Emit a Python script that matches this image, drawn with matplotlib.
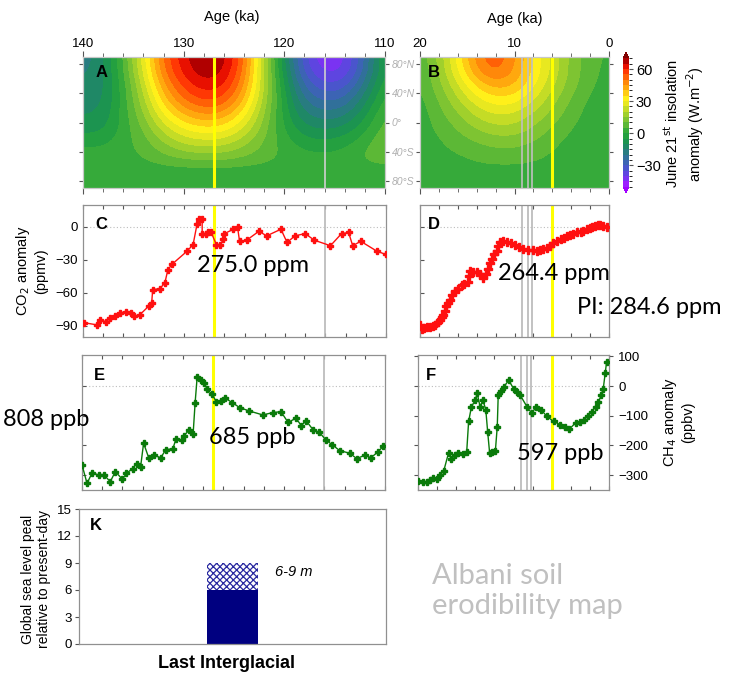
import numpy as np
import matplotlib.pyplot as plt
from matplotlib.colors import ListedColormap, BoundaryNorm
from matplotlib.ticker import MultipleLocator

plt.rcParams['font.family'] = ['Liberation Sans', 'DejaVu Sans']
plt.rcParams['hatch.linewidth'] = 0.9

# ---- June 21st insolation anomaly (W m-2) ----
lats = [90, 70, 50, 30, 10, -10, -30, -50, -70, -90]

ages_lig = [140, 138, 136, 134, 132, 130, 128, 126, 124, 122, 120, 118, 116, 114, 112, 110]
insol_lig = [
    [-18, -12, 5, 28, 52, 64, 71, 68, 52, 20, -10, -35, -45, -42, -25, -2],
    [-16, -12, 4, 26, 50, 62, 69, 66, 50, 20, -8, -32, -42, -40, -24, -3],
    [-14, -12, 2, 22, 44, 57, 63, 61, 46, 20, -5, -26, -34, -32, -18, 0],
    [-13, -11, 2, 18, 38, 50, 56, 54, 40, 18, -3, -20, -26, -24, -12, 3],
    [-10, -9, 2, 14, 30, 40, 45, 43, 32, 15, -2, -14, -18, -16, -6, 6],
    [-7, -6, 2, 10, 22, 30, 33, 32, 24, 12, 0, -8, -10, -8, -1, 8],
    [0, 0, 3, 7, 14, 20, 22, 21, 16, 9, 3, -2, -3, -1, 4, 10],
    [2, 2, 3, 5, 8, 10, 11, 11, 9, 7, 4, 3, 2, 3, 6, 8],
    [1, 1, 1, 1, 1, 1, 1, 1, 1, 1, 1, 1, 1, 1, 1, 1],
    [1, 1, 1, 1, 1, 1, 1, 1, 1, 1, 1, 1, 1, 1, 1, 1],
]

ages_hol = [20, 18, 16, 14, 12, 10, 8, 6, 4, 2, 0]
insol_hol = [
    [6, 16, 32, 48, 55, 46, 34, 24, 13, 7, 4],
    [5, 15, 30, 45, 52, 45, 34, 24, 13, 7, 3],
    [4, 13, 24, 36, 42, 40, 31, 21, 12, 6, 2],
    [3, 10, 19, 28, 33, 32, 25, 17, 9, 4, 1],
    [2, 8, 14, 21, 25, 24, 19, 13, 7, 3, 0],
    [2, 6, 10, 15, 18, 18, 14, 9, 5, 2, 0],
    [2, 4, 7, 9, 11, 11, 9, 6, 3, 1, 0],
    [2, 3, 4, 6, 7, 7, 6, 4, 2, 1, 0],
    [1, 1, 1, 2, 2, 2, 2, 1, 1, 1, 1],
    [1, 1, 1, 1, 1, 1, 1, 1, 1, 1, 1],
]

# ---- CO2 anomaly (ppmv) ----
co2_lig_age = [139.9, 138.6, 138.3, 137.7, 137.3, 136.8, 136.3, 135.7, 135.2, 135.0, 134.4,
               133.5, 133.2, 133.1, 132.4, 131.9, 131.6, 131.2, 129.7, 129.1, 128.7, 128.5,
               128.2, 128.2, 127.8, 127.6, 127.3, 126.8, 126.4, 126.1, 126.0, 125.1, 124.7,
               124.5, 123.8, 122.6, 121.8, 120.4, 119.8, 119.0, 118.0, 117.1, 115.5, 114.4,
               113.7, 113.3, 112.5, 110.9, 110.0]
co2_lig = [-87, -89, -85, -86, -83, -81, -78, -77, -78, -81, -80,
           -72, -69, -57, -56, -51, -39, -34, -22, -16, 3, 7,
           7, -6, -6, -5, -5, -16, -16, -11, -6, -2, 0,
           -13, -12, -4, -8, -2, -14, -8, -6, -12, -17, -6,
           -5, -17, -13, -22, -25]

co2_hol_age = [20.0, 19.8, 19.6, 19.3, 18.9, 18.6, 18.4, 18.1, 17.9, 17.7, 17.6, 17.4, 17.2,
               17.0, 16.8, 16.6, 16.3, 16.0, 15.6, 15.3, 14.9, 14.8, 14.7, 14.4, 14.0, 13.7,
               13.3, 13.0, 12.8, 12.6, 12.4, 12.2, 11.9, 11.7, 11.5, 11.2, 10.8, 10.4, 9.9,
               9.5, 9.1, 8.6, 8.0, 7.6, 7.3, 7.0, 6.6, 6.2, 5.9, 5.5, 5.1, 4.8, 4.4, 4.1,
               3.8, 3.4, 3.0, 2.7, 2.3, 2.0, 1.8, 1.5, 1.2, 0.95, 0.6, 0.25]
co2_hol = [-89, -93, -92, -91, -91, -90, -89, -86, -85, -82, -80, -76, -72,
           -69, -66, -62, -58, -56, -53, -52, -50, -45, -40, -41, -41, -43,
           -46, -43, -38, -33, -29, -25, -22, -17, -14, -13, -14, -15, -16,
           -18, -20, -21, -21, -22, -21, -20, -19, -17, -15, -13, -11, -10, -8, -7,
           -6, -5, -5, -4, -2, -1, 0, 1, 2, 2, 1, 0]

# ---- CH4 anomaly (ppbv) ----
ch4_lig_age = [140.0, 139.5, 139.0, 138.3, 137.8, 137.2, 136.7, 136.0, 135.6, 135.0, 134.6,
               134.2, 133.9, 133.4, 132.9, 132.2, 131.7, 131.0, 130.7, 130.1, 129.9, 129.4,
               129.0, 128.8, 128.6, 128.2, 127.9, 127.6, 127.1, 126.7, 126.2, 125.8, 125.1,
               124.4, 123.5, 122.1, 121.1, 120.3, 119.6, 118.8, 118.3, 117.8, 117.1, 116.5,
               115.8, 115.2, 114.5, 113.5, 112.8, 112.0, 111.4, 110.7, 110.2]
ch4_lig = [-265, -328, -292, -300, -300, -322, -288, -314, -294, -278, -261,
           -272, -192, -241, -233, -241, -214, -211, -178, -183, -167, -148,
           -162, -56, 30, 22, 11, -11, -28, -53, -50, -41, -56,
           -72, -83, -97, -89, -86, -122, -108, -133, -117, -148, -156,
           -183, -198, -217, -226, -244, -233, -241, -222, -203]

ch4_hol_age = [20.0, 19.5, 19.1, 18.7, 18.4, 18.0, 17.7, 17.3, 16.8, 16.5, 16.1, 15.8, 15.3,
               14.9, 14.7, 14.4, 14.0, 13.8, 13.5, 13.2, 12.9, 12.7, 12.5, 12.2, 11.9, 11.7,
               11.6, 11.3, 11.0, 10.5, 10.0, 9.6, 9.3, 8.6, 8.1, 7.6, 7.1, 6.5, 5.8, 5.1,
               4.6, 4.2, 3.5, 3.0, 2.6, 2.2, 1.8, 1.4, 1.1, 0.8, 0.6, 0.4, 0.25]
ch4_hol = [-319, -322, -324, -315, -308, -313, -300, -285, -225, -246, -232, -225, -228,
           -221, -119, -69, -47, -24, -69, -47, -80, -156, -225, -222, -219, -136,
           -30, -15, -2, 20, -8, -20, -30, -69, -91, -69, -80, -102, -119, -130,
           -138, -146, -124, -120, -113, -100, -86, -70, -52, -30, -8, 43, 82]

# ---- event markers (ka) ----
lig_peak, lig_gray = 127.0, 116.0
hol_peak, hol_gray = 6.0, [9.2, 8.6, 8.2]

# ---- sea level peak (m) ----
sl_low, sl_high = 6, 9

W, H = 731, 676
fig = plt.figure(figsize=(W / 100, H / 100), dpi=100)


def px_axes(l, t, r, b):
    return fig.add_axes([l / W, 1 - b / H, (r - l) / W, (b - t) / H])


colors = ['#9b1fff', '#7a33f2', '#5e45e0', '#4a55cc', '#3c64b4', '#31709a', '#287c80',
          '#1f8866', '#1c9450', '#24a040', '#36aa3a', '#5cb836', '#7ec432', '#a0d02c',
          '#c4dc26', '#e8e820', '#fff01a', '#ffcc14', '#ffa80e', '#ff880a', '#ff6006',
          '#ff3804', '#e81000', '#b00000']
cmap = ListedColormap(colors)
cmap.set_under('#a000ff')
cmap.set_over('#800000')
levels = np.arange(-50, 71, 5)
norm = BoundaryNorm(levels, cmap.N)

spine_c = '#909090'
tick_c = '#555555'


def style_spines(ax, c=spine_c):
    for s in ax.spines.values():
        s.set_color(c)
        s.set_linewidth(0.9)


# ---------- A ----------
axA = px_axes(83, 57, 385, 188)
imA = axA.imshow(np.array(insol_lig), extent=(141, 109, -100, 100), origin='upper',
                 aspect='auto', cmap=cmap, norm=norm, interpolation='bicubic',
                 interpolation_stage='data')
axA.set_xlim(140, 110)
axA.set_ylim(-90, 90)
axA.axvline(lig_peak, color='#ffff00', lw=2.2)
axA.axvline(lig_gray, color='#d0d0d0', lw=1.2)
axA.set_xticks([140, 130, 120, 110])
axA.xaxis.set_minor_locator(MultipleLocator(2))
axA.tick_params(axis='x', which='both', top=True, bottom=True, labeltop=True,
                labelbottom=False, direction='out', color=tick_c, labelsize=9.5, pad=1)
axA.tick_params(axis='x', which='major', length=4)
axA.tick_params(axis='x', which='minor', length=3)
axA.set_yticks([80, 40, 0, -40, -80])
axA.set_yticklabels(['80°N', '40°N', '0°', '40°S', '80°S'], fontstyle='italic', color='#b0b0b0')
axA.tick_params(axis='y', left=True, right=True, labelleft=False, labelright=True,
                direction='out', length=3, color=tick_c, labelsize=7.5, pad=2)
style_spines(axA, '#c8c8c8')
axA.text(0.04, 0.88, 'A', transform=axA.transAxes, fontsize=12, fontweight='bold', va='center')

# ---------- B ----------
axB = px_axes(420, 57, 609, 188)
axB.imshow(np.array(insol_hol), extent=(21, -1, -100, 100), origin='upper',
           aspect='auto', cmap=cmap, norm=norm, interpolation='bicubic',
           interpolation_stage='data')
axB.set_xlim(20, 0)
axB.set_ylim(-90, 90)
for a in hol_gray:
    axB.axvline(a, color='#c0c0c0', lw=1.2)
axB.axvline(hol_peak, color='#ffff00', lw=2.2)
axB.set_xticks([20, 10, 0])
axB.xaxis.set_minor_locator(MultipleLocator(2))
axB.tick_params(axis='x', which='both', top=True, bottom=True, labeltop=True,
                labelbottom=False, direction='out', color=tick_c, labelsize=9.5, pad=1)
axB.tick_params(axis='x', which='major', length=4)
axB.tick_params(axis='x', which='minor', length=3)
axB.set_yticks([80, 40, 0, -40, -80])
axB.tick_params(axis='y', left=True, right=True, labelleft=False, labelright=False,
                direction='out', length=3, color=tick_c)
style_spines(axB, '#c8c8c8')
axB.text(0.04, 0.88, 'B', transform=axB.transAxes, fontsize=12, fontweight='bold', va='center')

fig.text(232 / W, 1 - 17 / H, 'Age (ka)', ha='center', va='center', fontsize=10.5)
fig.text(515 / W, 1 - 19 / H, 'Age (ka)', ha='center', va='center', fontsize=10.5)

# colorbar
cax = px_axes(623, 52, 629, 193)
cb = fig.colorbar(imA, cax=cax, extend='both', ticks=[-30, 0, 30, 60])
cb.outline.set_visible(False)
cax.tick_params(labelsize=10.5, length=3, color=tick_c, pad=2)
fig.text(684 / W, 1 - 124 / H, 'June 21$^{\\mathrm{st}}$ insolation\nanomaly (W.m$^{-2}$)',
         rotation=90, ha='center', va='center', fontsize=10.5, multialignment='center')


def series_axes(ax, xlim, ylim, letter):
    ax.set_xlim(*xlim)
    ax.set_ylim(*ylim)
    ax.xaxis.set_major_locator(MultipleLocator(2))
    ax.tick_params(axis='x', top=True, bottom=True, labelbottom=False, direction='in',
                   length=3, color=tick_c)
    ax.tick_params(axis='y', direction='in', length=3, color=tick_c, labelsize=9.5)
    ax.axhline(0, color='#bdbdbd', lw=0.8, ls=(0, (1, 2)), zorder=1)
    style_spines(ax)
    ax.text(0.04, 0.85, letter, transform=ax.transAxes, fontsize=12, fontweight='bold',
            va='center')


red = '#ff1010'
green = '#0a7a0a'

# ---------- C ----------
axC = px_axes(83, 205, 386, 337)
series_axes(axC, (140, 110), (-100, 20), 'C')
axC.axvline(lig_peak, color='#ffff00', lw=2.2, zorder=2)
axC.axvline(lig_gray, color='#b8b8b8', lw=1.2, zorder=2)
axC.plot(co2_lig_age, co2_lig, color=red, lw=1.0, marker='P', ms=4.5, zorder=3)
axC.set_yticks([0, -30, -60, -90])
fig.text(31 / W, 1 - 271 / H, 'CO$_2$ anomaly\n(ppmv)', rotation=90, ha='center',
         va='center', fontsize=10.5, multialignment='center')

# ---------- D ----------
axD = px_axes(420, 205, 609, 337)
series_axes(axD, (20, 0), (-100, 20), 'D')
for a in hol_gray:
    axD.axvline(a, color='#b8b8b8', lw=1.2, zorder=2)
axD.axvline(hol_peak, color='#ffff00', lw=2.2, zorder=2)
axD.plot(co2_hol_age, co2_hol, color=red, lw=1.0, marker='P', ms=5.5, zorder=3)
axD.set_yticks([0, -30, -60, -90])
axD.tick_params(axis='y', labelleft=False)

# ---------- E ----------
axE = px_axes(82, 355, 385, 490)
series_axes(axE, (140, 110), (-350, 105), 'E')
axE.axvline(lig_peak, color='#ffff00', lw=2.2, zorder=2)
axE.axvline(lig_gray, color='#b8b8b8', lw=1.2, zorder=2)
axE.plot(ch4_lig_age, ch4_lig, color=green, lw=1.0, marker='P', ms=4.5, zorder=3)
axE.set_yticks([0, -100, -200, -300])
axE.tick_params(axis='y', labelleft=False)

# ---------- F ----------
axF = px_axes(418, 355, 609, 490)
series_axes(axF, (20, 0), (-350, 105), 'F')
for a in hol_gray:
    axF.axvline(a, color='#b8b8b8', lw=1.2, zorder=2)
axF.axvline(hol_peak, color='#ffff00', lw=2.2, zorder=2)
axF.plot(ch4_hol_age, ch4_hol, color=green, lw=1.0, marker='P', ms=5, zorder=3)
axF.set_yticks([100, 0, -100, -200, -300])
axF.tick_params(axis='y', left=True, right=True, labelleft=False, labelright=True)
axF.tick_params(axis='y', which='major', direction='out')
fig.text(678 / W, 1 - 422 / H, 'CH$_4$ anomaly\n(ppbv)', rotation=90, ha='center',
         va='center', fontsize=10.5, multialignment='center')

# ---------- K ----------
axK = px_axes(79, 509, 386, 644)
axK.bar([0.5], [sl_low], width=0.166, color='#000080', linewidth=0)
axK.bar([0.5], [sl_high - sl_low], bottom=[sl_low], width=0.166, facecolor='white',
        edgecolor='#2a2aa0', hatch='xxxxx', linewidth=0)
axK.set_xlim(0, 1)
axK.set_ylim(0, 15)
axK.set_yticks([0, 3, 6, 9, 12, 15])
axK.set_xticks([])
axK.tick_params(axis='y', direction='out', length=3, color=tick_c, labelsize=9.5, pad=2)
style_spines(axK)
axK.text(0.035, 0.88, 'K', transform=axK.transAxes, fontsize=12, fontweight='bold', va='center')
axK.text(0.64, 8.0, '6-9 m', fontsize=10.5, fontstyle='italic', va='center')
fig.text(36 / W, 1 - 579 / H, 'Global sea level peal\nrelative to present-day', rotation=90,
         ha='center', va='center', fontsize=10, multialignment='center')
fig.text(227 / W, 1 - 664 / H, 'Last Interglacial', ha='center', va='center', fontsize=13,
         fontweight='bold')

# ---------- annotations ----------
ann = dict(family=['Lato', 'DejaVu Sans'], fontsize=17, color='black', ha='left', va='center')
fig.text(197 / W, 1 - 265 / H, '275.0 ppm', **ann)
fig.text(498 / W, 1 - 273 / H, '264.4 ppm', **ann)
fig.text(577 / W, 1 - 307 / H, 'PI: 284.6 ppm', **ann)
fig.text(3 / W, 1 - 420 / H, '808 ppb', **ann)
fig.text(209 / W, 1 - 438 / H, '685 ppb', **ann)
fig.text(517 / W, 1 - 453 / H, '597 ppb', **ann)
fig.text(432 / W, 1 - 591 / H, 'Albani soil\nerodibility map', family=['Lato', 'DejaVu Sans'],
         fontsize=21, color='#c0c0c0', ha='left', va='center', linespacing=1.2)

fig.savefig('out.png', dpi=100)
